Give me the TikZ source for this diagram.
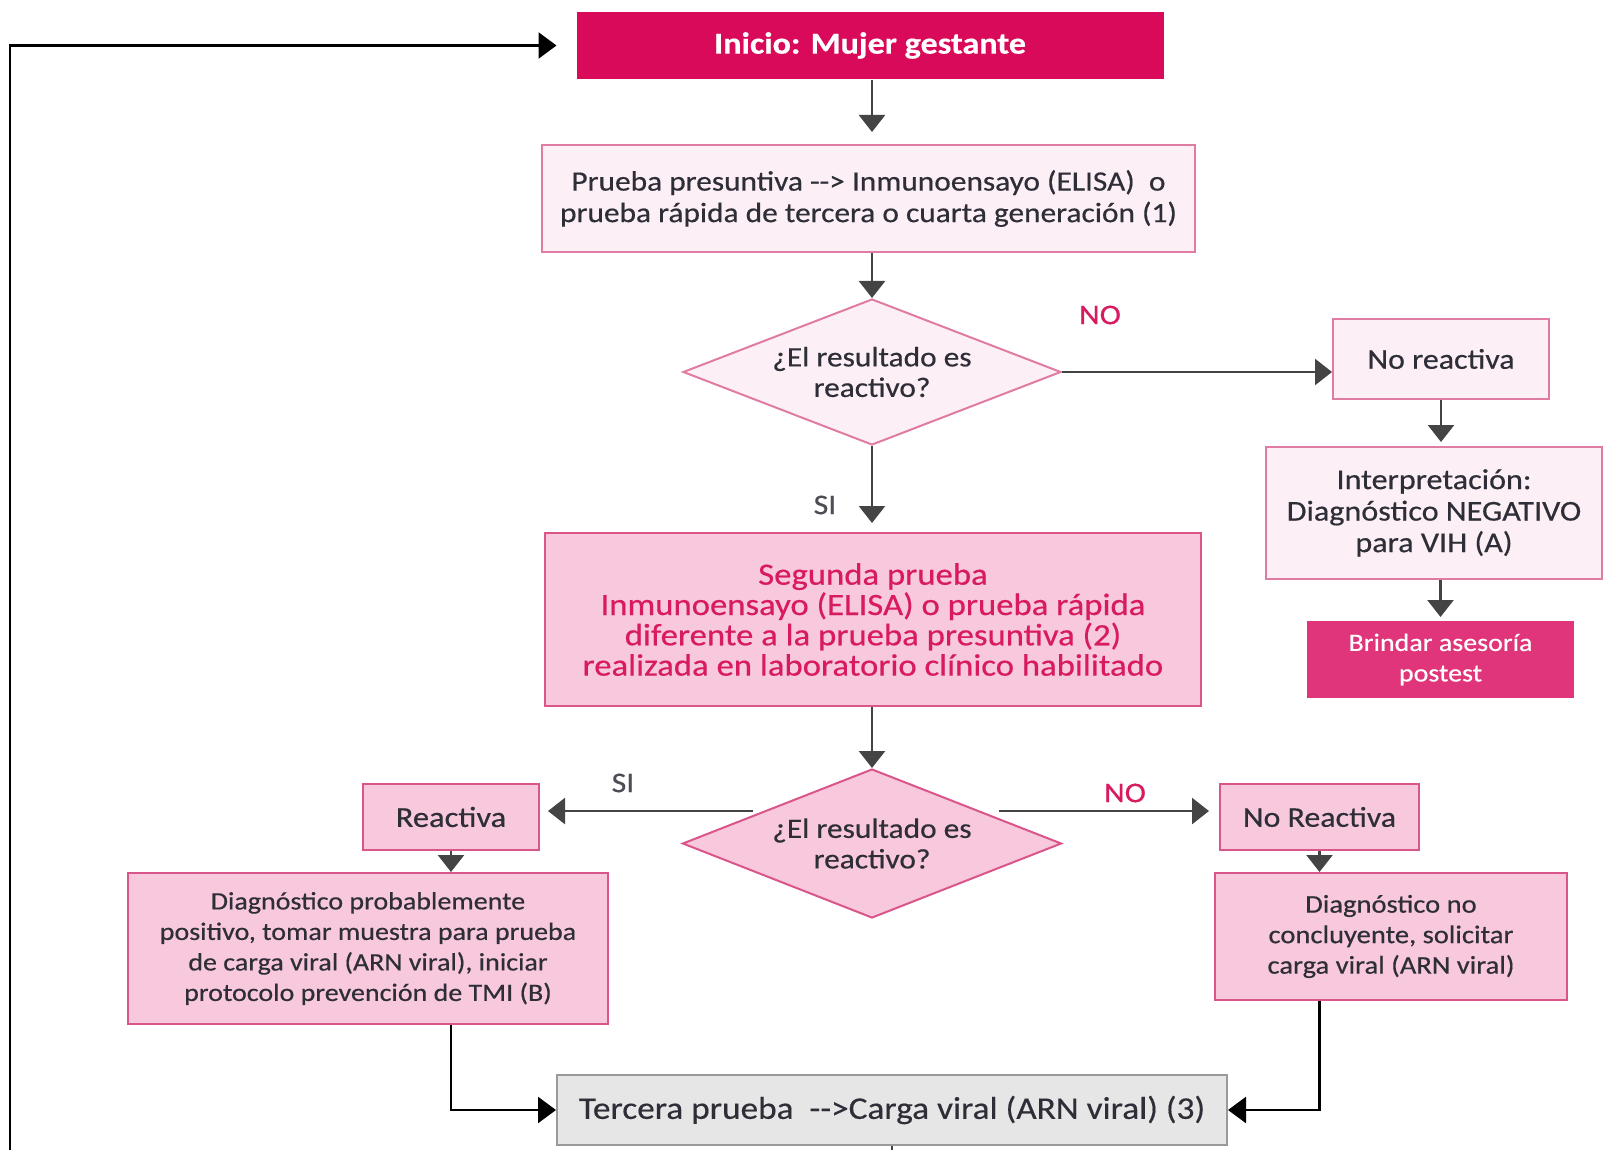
\documentclass[tikz,border=0pt]{standalone}
\usepackage{fontspec}
\setmainfont{Carlito}[FakeStretch=1.12, FakeBold=0.45]
\usetikzlibrary{arrows.meta,shapes.geometric,calc}

\definecolor{magentaD}{HTML}{DA0A5B}
\definecolor{magentaM}{HTML}{E0357A}
\definecolor{magentaT}{HTML}{D81B60}
\definecolor{pinkL}{HTML}{FCEFF5}
\definecolor{pinkLB}{HTML}{E07BA3}
\definecolor{pinkM}{HTML}{F8C8DC}
\definecolor{pinkMB}{HTML}{D9558A}
\definecolor{greyF}{HTML}{E6E6E6}
\definecolor{greyB}{HTML}{9A9A9A}
\definecolor{txt}{HTML}{2E2E38}
\definecolor{lineC}{HTML}{444444}

\newcommand{\ar}{{-}{-}>}

\begin{document}
\begin{tikzpicture}[x=1pt,y=-1pt,
  box/.style={draw, line width=2pt, inner sep=3pt, align=center, text=txt},
  lightbox/.style={box, fill=pinkL, draw=pinkLB},
  pinkbox/.style={box, fill=pinkM, draw=pinkMB},
  solidbox/.style={box, draw=none, text=white},
  decision/.style={diamond, draw, line width=2pt, inner sep=0pt, align=center, text=txt},
  fs/.style={font=\fontsize{#1}{30.5}\selectfont},
  flow/.style={line width=2.5pt, draw=lineC, -{Triangle[width=26pt,length=17pt]}},
  loopflow/.style={line width=2.5pt, draw=black, -{Triangle[width=26pt,length=18pt]}},
  tag/.style={font=\fontsize{28.5}{30}\selectfont}
]
\useasboundingbox[fill=white] (0,0) rectangle (1604,1150);

% start and first test
\node[solidbox, fill=magentaD, minimum width=587pt, minimum height=67pt,
      font=\fontsize{30.5}{30}\selectfont\bfseries] (start) at (870,45.5) {Inicio: Mujer gestante};
\node[lightbox, font=\fontsize{28}{31.5}\selectfont, minimum width=653pt, minimum height=107pt] (b1) at (868.5,198.5)
  {Prueba presuntiva \ar{} Inmunoensayo (ELISA)\ \ o\\prueba rápida de tercera o cuarta generación (1)};
\node[decision, fs=28, fill=pinkL, draw=pinkLB, shape aspect=2.59,
      minimum width=378pt, minimum height=146pt] (d1) at (872,372)
  {¿El resultado es\\reactivo?};

% non-reactive branch
\node[lightbox, fs=28.5, minimum width=216pt, minimum height=80pt] (nr1) at (1441,359) {No reactiva};
\node[lightbox, font=\fontsize{28.7}{31.5}\selectfont, minimum width=336pt, minimum height=132pt] (interp) at (1434,513)
  {Interpretación:\\Diagnóstico NEGATIVO\\para VIH (A)};
\node[solidbox, fill=magentaM, minimum width=267pt, minimum height=77pt,
      font=\fontsize{25}{30.5}\selectfont] (brindar) at (1440.5,659.5) {Brindar asesoría\\postest};

% second test
\node[pinkbox, text=magentaT, minimum width=656pt, minimum height=173pt,
      font=\fontsize{31}{30.3}\selectfont] (b2) at (873,619.5)
  {Segunda prueba\\Inmunoensayo (ELISA) o prueba rápida\\diferente a la prueba presuntiva (2)\\realizada en laboratorio clínico habilitado};
\node[decision, fs=28, fill=pinkM, draw=pinkMB, shape aspect=2.54,
      minimum width=379pt, minimum height=149pt] (d2) at (872,843.5)
  {¿El resultado es\\reactivo?};

% outcomes of the second test
\node[pinkbox, fs=29, minimum width=176pt, minimum height=66pt] (reac) at (451,817) {Reactiva};
\node[pinkbox, fs=25, minimum width=480pt, minimum height=151pt] (diag1) at (368,948.5)
  {Diagnóstico probablemente\\positivo, tomar muestra para prueba\\de carga viral (ARN viral), iniciar\\protocolo prevención de TMI (B)};
\node[pinkbox, fs=28.5, minimum width=199pt, minimum height=66pt] (nreac) at (1319.5,817) {No Reactiva};
\node[pinkbox, fs=25.5, minimum width=352pt, minimum height=127pt] (diag2) at (1391,936.5)
  {Diagnóstico no\\concluyente, solicitar\\carga viral (ARN viral)};

% third test
\node[box, fill=greyF, draw=greyB, fs=31.5, minimum width=670pt, minimum height=70pt] (third) at (892,1110)
  {Tercera prueba\ \ \ar Carga viral (ARN viral) (3)};

% branch labels
\node[tag, text=magentaT] (no1) at (1100,315) {NO};
\node[tag, text=txt!85] (si1) at (825,505) {SI};
\node[tag, text=txt!85] (si2) at (623,783) {SI};
\node[tag, text=magentaT] (no2) at (1125,793) {NO};

% connectors (main column runs straight down the diamonds' axis)
\draw[flow, shorten >=12pt] (start.south -| d1.north) -- (b1.north -| d1.north);
\draw[flow] (b1.south -| d1.north) -- (d1.north);
\draw[flow] (d1.east) -- (d1.east -| nr1.west);
\draw[flow, shorten >=4pt] (nr1.south) -- (nr1.south |- interp.north);
\draw[flow, shorten >=3pt] (interp.south -| brindar.north) -- (brindar.north);
\draw[flow, shorten >=9pt] (d1.south) -- (b2.north -| d1.south);
\draw[flow] (b2.south -| d2.north) -- (d2.north);

\coordinate (d2l) at ($(d2.west)!0.43!(d2.north)+(-10,0)$);
\coordinate (d2r) at ($(d2.east)!0.43!(d2.north)+(18,0)$);
\draw[flow, shorten >=8pt] (d2l) -- (d2l -| reac.east);
\draw[flow, shorten >=10pt] (d2r) -- (d2r -| nreac.west);
\draw[flow] (reac.south) -- (reac.south |- diag1.north);
\draw[flow] (nreac.south) -- (nreac.south |- diag2.north);

\draw[loopflow] (diag1.south -| reac.south) |- (third.west);
\draw[loopflow] (diag2.south -| nreac.south) |- (third.east);

% return path to the start
\coordinate (loopfoot) at (10,1150);
\draw[loopflow, shorten >=19pt] (loopfoot) |- (start.west);

% continuation below the third test
\coordinate (thirdfoot) at (third.south |- loopfoot);
\draw[line width=2pt, draw=lineC] (third.south) -- (thirdfoot);
\end{tikzpicture}
\end{document}
